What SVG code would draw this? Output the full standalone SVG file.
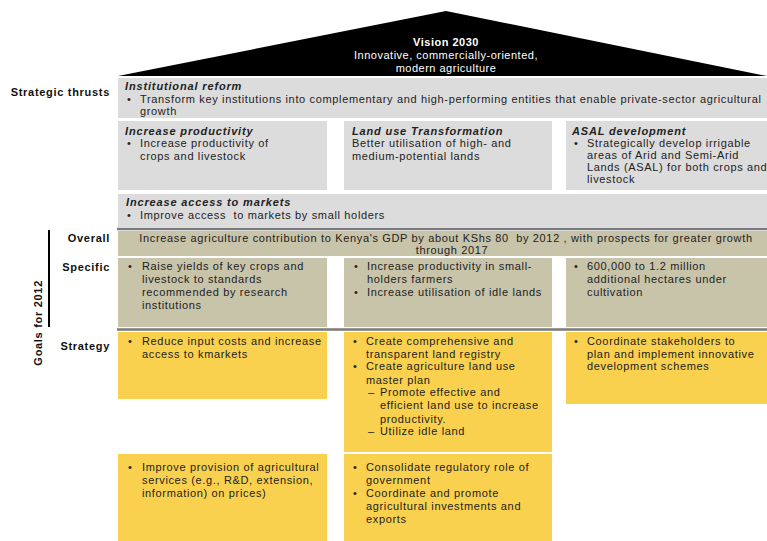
<svg xmlns="http://www.w3.org/2000/svg" width="767" height="541" viewBox="0 0 767 541">
<style>
.t{font-family:"Liberation Sans",Arial,sans-serif;font-size:11px;letter-spacing:0.65px;fill:#222}
.h{font-weight:bold;font-style:italic;letter-spacing:0.85px}
.lbl{font-family:"Liberation Sans",Arial,sans-serif;font-size:11px;font-weight:bold;letter-spacing:0.7px;text-anchor:end;fill:#111}
.v{font-family:"Liberation Sans",Arial,sans-serif;font-size:11px;fill:#fff;letter-spacing:0.5px;text-anchor:middle}
.g{fill:#DCDCDC}.k{fill:#C8C4AA}.y{fill:#F9D14E}
.sep{stroke:#7a7a7a;stroke-width:2.5}
</style>
<rect width="767" height="541" fill="#fff"/>

<g id="roof">
<polygon points="118,76 446,11 767,76" fill="#000"/>
<text class="v" x="446" y="46" font-weight="bold" letter-spacing="0.7">Vision 2030</text>
<text class="v" x="446" y="59">Innovative, commercially-oriented,</text>
<text class="v" x="446" y="72">modern agriculture</text>
</g>

<g id="labels">
<text class="lbl" x="110" y="96">Strategic thrusts</text>
<text class="lbl" x="110" y="242">Overall</text>
<text class="lbl" x="110" y="271">Specific</text>
<text class="lbl" x="110" y="350">Strategy</text>
<text class="lbl" x="0" y="0" letter-spacing="0" text-anchor="middle" transform="translate(42,280) rotate(-90)">Goals for 2012</text>
</g>

<g id="institutional-reform">
<rect class="g" x="118" y="78" width="649" height="40"/>
<text class="t h" x="125" y="90">Institutional reform</text>
<text class="t" x="127" y="103">•</text>
<text class="t" x="140" y="103">Transform key institutions into complementary and high-performing entities that enable private-sector agricultural</text>
<text class="t" x="140" y="115">growth</text>
</g>

<g id="increase-productivity">
<rect class="g" x="118" y="121" width="209" height="69"/>
<text class="t h" x="125" y="135">Increase productivity</text>
<text class="t" x="127" y="147">•</text>
<text class="t" x="140" y="147">Increase productivity of</text>
<text class="t" x="140" y="160">crops and livestock</text>
</g>

<g id="land-use">
<rect class="g" x="344" y="121" width="208" height="69"/>
<text class="t h" x="352" y="135">Land use Transformation</text>
<text class="t" x="352" y="147">Better utilisation of high- and</text>
<text class="t" x="352" y="160">medium-potential lands</text>
</g>

<g id="asal">
<rect class="g" x="566" y="121" width="201" height="69"/>
<text class="t h" x="572" y="135">ASAL development</text>
<text class="t" x="574" y="147">•</text>
<text class="t" x="587" y="147">Strategically develop irrigable</text>
<text class="t" x="587" y="159">areas of Arid and Semi-Arid</text>
<text class="t" x="587" y="171">Lands (ASAL) for both crops and</text>
<text class="t" x="587" y="183">livestock</text>
</g>

<g id="access-markets">
<rect class="g" x="118" y="194" width="649" height="33"/>
<text class="t h" x="126" y="206">Increase access to markets</text>
<text class="t" x="127" y="219">•</text>
<text class="t" x="140" y="219" style="white-space:pre">Improve access  to markets by small holders</text>
</g>

<g id="overall">
<rect class="k" x="118" y="231" width="649" height="25"/>
<text class="t" x="446" y="242" text-anchor="middle" style="white-space:pre">Increase agriculture contribution to Kenya's GDP by about KShs 80  by 2012 , with prospects for greater growth</text>
<text class="t" x="452" y="254" text-anchor="middle">through 2017</text>
</g>

<g id="specific-1">
<rect class="k" x="118" y="258" width="209" height="69"/>
<text class="t" x="128" y="270">•</text>
<text class="t" x="142" y="270">Raise yields of key crops and</text>
<text class="t" x="142" y="283">livestock to standards</text>
<text class="t" x="142" y="296">recommended by research</text>
<text class="t" x="142" y="309">institutions</text>
</g>

<g id="specific-2">
<rect class="k" x="344" y="258" width="208" height="69"/>
<text class="t" x="354" y="270">•</text>
<text class="t" x="367" y="270">Increase productivity in small-</text>
<text class="t" x="367" y="283">holders farmers</text>
<text class="t" x="354" y="296">•</text>
<text class="t" x="367" y="296">Increase utilisation of idle lands</text>
</g>

<g id="specific-3">
<rect class="k" x="566" y="258" width="201" height="69"/>
<text class="t" x="574" y="270">•</text>
<text class="t" x="587" y="270">600,000 to 1.2 million</text>
<text class="t" x="587" y="283">additional hectares under</text>
<text class="t" x="587" y="296">cultivation</text>
</g>

<g id="separators">
<line class="sep" x1="117" y1="229" x2="767" y2="229"/>
<line class="sep" x1="117" y1="329.5" x2="767" y2="329.5"/>
<line x1="49" y1="230" x2="49" y2="327" stroke="#000" stroke-width="2"/>
</g>

<g id="strategy-1">
<rect class="y" x="118" y="332" width="209" height="67"/>
<text class="t" x="128" y="345">•</text>
<text class="t" x="142" y="345">Reduce input costs and increase</text>
<text class="t" x="142" y="358">access to kmarkets</text>
</g>

<g id="strategy-2">
<rect class="y" x="344" y="332" width="208" height="120"/>
<text class="t" x="353" y="345">•</text>
<text class="t" x="366" y="345">Create comprehensive and</text>
<text class="t" x="366" y="358">transparent land registry</text>
<text class="t" x="353" y="370">•</text>
<text class="t" x="366" y="370">Create agriculture land use</text>
<text class="t" x="366" y="384">master plan</text>
<text class="t" x="368" y="396">–</text>
<text class="t" x="380" y="396">Promote effective and</text>
<text class="t" x="380" y="409">efficient land use to increase</text>
<text class="t" x="380" y="423">productivity.</text>
<text class="t" x="368" y="435">–</text>
<text class="t" x="380" y="435">Utilize idle land</text>
</g>

<g id="strategy-3">
<rect class="y" x="566" y="332" width="201" height="72"/>
<text class="t" x="574" y="345">•</text>
<text class="t" x="587" y="345">Coordinate stakeholders to</text>
<text class="t" x="587" y="358">plan and implement innovative</text>
<text class="t" x="587" y="370">development schemes</text>
</g>

<g id="strategy-4">
<rect class="y" x="118" y="454" width="209" height="87"/>
<text class="t" x="128" y="471">•</text>
<text class="t" x="142" y="471">Improve provision of agricultural</text>
<text class="t" x="142" y="484">services (e.g., R&amp;D, extension,</text>
<text class="t" x="142" y="497">information) on prices)</text>
</g>

<g id="strategy-5">
<rect class="y" x="344" y="454" width="208" height="87"/>
<text class="t" x="353" y="471">•</text>
<text class="t" x="366" y="471">Consolidate regulatory role of</text>
<text class="t" x="366" y="484">government</text>
<text class="t" x="353" y="497">•</text>
<text class="t" x="366" y="497">Coordinate and promote</text>
<text class="t" x="366" y="510">agricultural investments and</text>
<text class="t" x="366" y="523">exports</text>
</g>
</svg>
